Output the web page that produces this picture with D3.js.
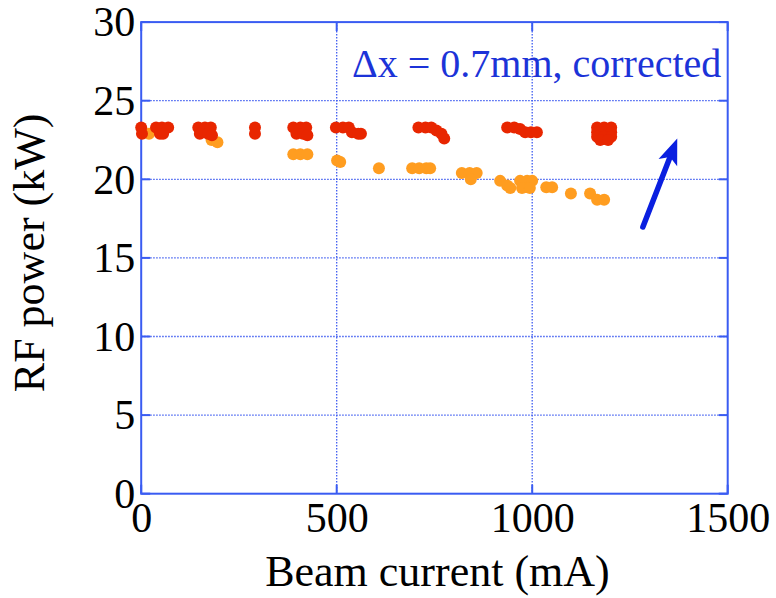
<!DOCTYPE html>
<html>
<head>
<meta charset="utf-8">
<script src="https://cdn.jsdelivr.net/npm/d3@7"></script>
<style>
  html, body { margin: 0; padding: 0; background: #fff; }
  svg { display: block; }
  text { font-family: "Liberation Serif", "Times New Roman", serif; fill: #000; }
</style>
</head>
<body>
<svg id="chart" width="776" height="598"></svg>
<script>
// ---------------- data ----------------
const xTicks = [0, 500, 1000, 1500];
const yTicks = [0, 5, 10, 15, 20, 25, 30];
const xLabel = "Beam current (mA)";
const yLabel = "RF power (kW)";
const annotation = "\u0394x = 0.7mm, corrected";

// red series (mA, kW)
const redX = [0, 2, 38, 53, 69, 48, 56, 146, 163, 178, 150, 171, 181, 291, 291,
  389, 407, 422, 397, 414, 425, 498, 516, 531, 539, 555, 562,
  709, 727, 742, 755, 768, 775, 936, 954, 969, 982, 997, 1012,
  1166, 1184, 1202, 1166, 1184, 1202, 1166, 1184, 1202, 1174, 1194];
const redY = [23.3, 22.9, 23.3, 23.3, 23.3, 22.9, 22.9, 23.3, 23.3, 23.3, 22.9, 22.9, 22.8, 23.3, 22.9,
  23.3, 23.3, 23.3, 22.9, 22.9, 22.8, 23.3, 23.3, 23.3, 23.0, 22.9, 22.9,
  23.3, 23.3, 23.3, 23.1, 22.9, 22.6, 23.3, 23.3, 23.2, 23.0, 23.0, 23.0,
  23.3, 23.3, 23.3, 23.0, 23.0, 23.0, 22.7, 22.7, 22.7, 22.5, 22.5];

// orange series (mA, kW)
const orangeX = [20, 180, 195, 389, 407, 425, 501, 509, 608, 693, 711, 729, 739,
  820, 840, 858, 843, 918, 936, 944, 969, 987, 1000, 974, 994,
  1036, 1051, 1099, 1148, 1166, 1184];
const orangeY = [22.9, 22.5, 22.35, 21.6, 21.6, 21.6, 21.2, 21.1, 20.7, 20.7, 20.7, 20.7, 20.7,
  20.4, 20.4, 20.4, 20.0, 19.9, 19.6, 19.45, 19.9, 19.9, 19.9, 19.45, 19.45,
  19.5, 19.5, 19.1, 19.1, 18.7, 18.7];

// arrow annotation (data coords): tail -> tip
const arrowX = [1283, 1371];
const arrowY = [16.97, 22.6];

// ---------------- layout ----------------
const svg = d3.select("#chart");
const L = 141.2, R = 727.7, T = 22.1, B = 493.7;
const x = d3.scaleLinear().domain([0, 1500]).range([L, R]);
const y = d3.scaleLinear().domain([0, 30]).range([B, T]);

const frameColor = "#3a5cf2";
const gridColor = "#3f5cf0";

// grid
const g = svg.append("g");
g.selectAll(".gx").data(xTicks.slice(1, -1)).enter().append("line")
  .attr("x1", d => x(d)).attr("x2", d => x(d)).attr("y1", T).attr("y2", B)
  .attr("stroke", gridColor).attr("stroke-width", 1.3).attr("stroke-dasharray", "1.5,1.5");
g.selectAll(".gy").data(yTicks.slice(1, -1)).enter().append("line")
  .attr("y1", d => y(d)).attr("y2", d => y(d)).attr("x1", L).attr("x2", R)
  .attr("stroke", gridColor).attr("stroke-width", 1.3).attr("stroke-dasharray", "1.5,1.5");

// inward ticks
const tk = 9;
yTicks.forEach(v => {
  g.append("line").attr("x1", L).attr("x2", L + tk).attr("y1", y(v)).attr("y2", y(v))
    .attr("stroke", frameColor).attr("stroke-width", 2);
  g.append("line").attr("x1", R).attr("x2", R - tk).attr("y1", y(v)).attr("y2", y(v))
    .attr("stroke", frameColor).attr("stroke-width", 2);
});
xTicks.forEach(v => {
  g.append("line").attr("x1", x(v)).attr("x2", x(v)).attr("y1", B).attr("y2", B - tk)
    .attr("stroke", frameColor).attr("stroke-width", 2);
  g.append("line").attr("x1", x(v)).attr("x2", x(v)).attr("y1", T).attr("y2", T + tk)
    .attr("stroke", frameColor).attr("stroke-width", 2);
});

// frame
svg.append("rect").attr("x", L).attr("y", T).attr("width", R - L).attr("height", B - T)
  .attr("fill", "none").attr("stroke", frameColor).attr("stroke-width", 2);

// axes labels via d3 axes (domain and ticks hidden)
const xAxis = svg.append("g").attr("transform", `translate(0,${B})`)
  .call(d3.axisBottom(x).tickValues(xTicks).tickSize(0).tickPadding(0).tickFormat(d3.format("d")));
xAxis.attr("font-family", null);
xAxis.select(".domain").remove();
xAxis.selectAll("text").attr("font-size", 42).attr("dy", null).attr("y", 38)
  .style("font-family", "'Liberation Serif', 'Times New Roman', serif").attr("fill", "#000");

const yAxis = svg.append("g").attr("transform", `translate(${L},0)`)
  .call(d3.axisLeft(y).tickValues(yTicks).tickSize(0).tickPadding(0).tickFormat(d3.format("d")));
yAxis.attr("font-family", null);
yAxis.select(".domain").remove();
yAxis.selectAll("text").attr("font-size", 42).attr("x", -6).attr("dy", "0.33em")
  .style("font-family", "'Liberation Serif', 'Times New Roman', serif").attr("fill", "#000");

// axis titles
svg.append("text").attr("x", (L + R) / 2 + 3).attr("y", 586)
  .attr("text-anchor", "middle").attr("font-size", 44).text(xLabel);
svg.append("text").attr("transform", `translate(44,${(T + B) / 2 - 5}) rotate(-90)`)
  .attr("text-anchor", "middle").attr("font-size", 44).text(yLabel);

// annotation text
svg.append("text").attr("x", 352).attr("y", 77).attr("font-size", 40)
  .style("fill", "#1c33d8").text(annotation);

// points
const rad = 6;
const orangeData = orangeX.map((v, i) => [v, orangeY[i]]);
const redData = redX.map((v, i) => [v, redY[i]]);
svg.append("g").selectAll("circle").data(orangeData).enter().append("circle")
  .attr("cx", d => x(d[0])).attr("cy", d => y(d[1])).attr("r", rad).attr("fill", "#ff9d20");
svg.append("g").selectAll("circle").data(redData).enter().append("circle")
  .attr("cx", d => x(d[0])).attr("cy", d => y(d[1])).attr("r", rad).attr("fill", "#e82600");

// arrow
const ax0 = x(arrowX[0]), ay0 = y(arrowY[0]), ax1 = x(arrowX[1]), ay1 = y(arrowY[1]);
const ang = Math.atan2(ay1 - ay0, ax1 - ax0);
const headLen = 26, headW = 10;
const bx = ax1 - headLen * Math.cos(ang), by = ay1 - headLen * Math.sin(ang);
const px = -Math.sin(ang), py = Math.cos(ang);
const arrowColor = "#0a1fe0";
svg.append("line").attr("x1", ax0).attr("y1", ay0).attr("x2", bx + 4 * Math.cos(ang)).attr("y2", by + 4 * Math.sin(ang))
  .attr("stroke", arrowColor).attr("stroke-width", 5.5).attr("stroke-linecap", "round");
svg.append("path")
  .attr("d", `M${ax1},${ay1} L${bx + headW * px},${by + headW * py} L${bx + 6 * Math.cos(ang)},${by + 6 * Math.sin(ang)} L${bx - headW * px},${by - headW * py} Z`)
  .attr("fill", arrowColor);
</script>
</body>
</html>
